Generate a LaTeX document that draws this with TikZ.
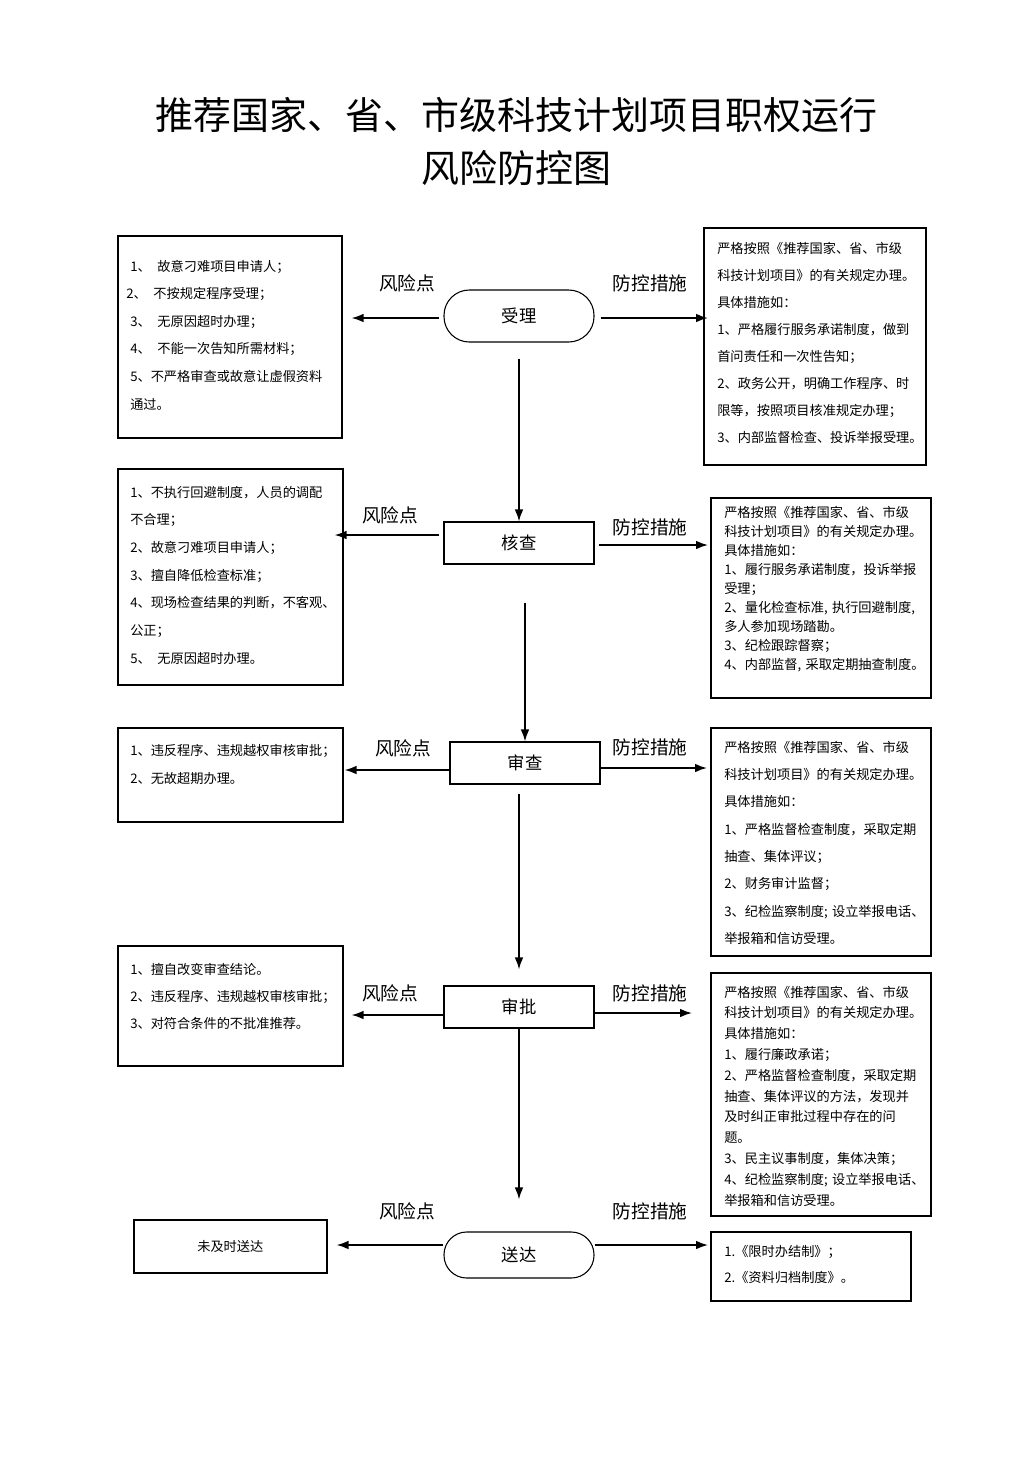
\documentclass[tikz,border=0pt]{standalone}
\usepackage{fontspec}
\setmainfont{Noto Sans CJK SC}
\usetikzlibrary{arrows.meta,calc}
\begin{document}
\begin{tikzpicture}[x=0.75pt,y=-0.75pt,
  box/.style={draw,line width=1.2pt,inner sep=0pt,anchor=north west},
  flow/.style={draw,line width=0.8pt,minimum width=112.5pt,minimum height=31.5pt,inner sep=0pt,font=\fontsize{13pt}{15pt}\selectfont},
  txt/.style={anchor=base west,inner sep=0pt,text width=200pt,align=left,font=\fontsize{9.9pt}{#1}\selectfont},
  lab/.style={font=\fontsize{14pt}{16pt}\selectfont,inner sep=0pt},
  title/.style={font=\fontsize{28.5pt}{39.75pt}\selectfont,align=center,inner sep=0pt,anchor=base},
  arr/.style={line width=1.2pt,-{Latex[length=9pt,width=6.5pt]}}]
\useasboundingbox (0,0) rectangle (1033,1460);
\fill[white] (0,0) rectangle (1033,1460);

% title
\node[title] (title) at (516,182) {推荐国家、省、市级科技计划项目职权运行\\风险防控图};

% flow nodes
\node[flow,minimum height=39pt,rounded corners=19pt] (sl) at (519,316) {受理};
\node[flow] (hc) at (519,543) {核查};
\node[flow] (sc) at (525,763) {审查};
\node[flow] (sp) at (519,1007) {审批};
\node[flow,minimum height=34.5pt,rounded corners=17pt] (sd) at (519,1255) {送达};

% boxes
\node[box,minimum width=168pt,minimum height=151.5pt] (L1) at (117,235) {};
\node[box,minimum width=166.5pt,minimum height=177.75pt] (R1) at (703,227) {};
\node[box,minimum width=168.75pt,minimum height=162pt] (L2) at (117,468) {};
\node[box,minimum width=165pt,minimum height=150pt] (R2) at (710,497) {};
\node[box,minimum width=168.75pt,minimum height=70.5pt] (L3) at (117,727) {};
\node[box,minimum width=165pt,minimum height=171pt] (R3) at (710,727) {};
\node[box,minimum width=168.75pt,minimum height=90pt] (L4) at (117,945) {};
\node[box,minimum width=165pt,minimum height=182.25pt] (R4) at (710,972) {};
\node[box,minimum width=144.75pt,minimum height=39.75pt,font=\fontsize{9.9pt}{12pt}\selectfont] (L5) at (133,1219) {未及时送达};
\node[box,minimum width=150pt,minimum height=51.75pt] (R5) at (710,1231) {};

% box texts
\node[txt=20.7pt] (L1t) at (130,271) {1、\hspace{5pt}故意刁难项目申请人；\\
\hspace*{-3pt}2、\hspace{5pt}不按规定程序受理；\\
3、\hspace{5pt}无原因超时办理；\\
4、\hspace{5pt}不能一次告知所需材料；\\
5、不严格审查或故意让虚假资料\\
通过。};
\node[txt=20.8pt] (L2t) at (130,497) {1、不执行回避制度，人员的调配\\
不合理；\\
2、故意刁难项目申请人；\\
3、擅自降低检查标准；\\
4、现场检查结果的判断，不客观、\\
公正；\\
5、\hspace{5pt}无原因超时办理。};
\node[txt=21pt] (L3t) at (130,755) {1、违反程序、违规越权审核审批；\\
2、无故超期办理。};
\node[txt=20.6pt] (L4t) at (130,974) {1、擅自改变审查结论。\\
2、违反程序、违规越权审核审批；\\
3、对符合条件的不批准推荐。};

\node[txt=20.3pt] (R1t) at (717,253) {严格按照《推荐国家、省、市级\\
科技计划项目》的有关规定办理。\\
具体措施如：\\
1、严格履行服务承诺制度，做到\\
首问责任和一次性告知；\\
2、政务公开，明确工作程序、时\\
限等，按照项目核准规定办理；\\
3、内部监督检查、投诉举报受理。};
\node[txt=14.3pt] (R2t) at (724,517) {严格按照《推荐国家、省、市级\\
科技计划项目》的有关规定办理。\\
具体措施如：\\
1、履行服务承诺制度，投诉举报\\
受理；\\
2、量化检查标准, 执行回避制度,\\
多人参加现场踏勘。\\
3、纪检跟踪督察；\\
4、内部监督, 采取定期抽查制度。};
\node[txt=20.5pt] (R3t) at (724,752) {严格按照《推荐国家、省、市级\\
科技计划项目》的有关规定办理。\\
具体措施如：\\
1、严格监督检查制度，采取定期\\
抽查、集体评议；\\
2、财务审计监督；\\
3、纪检监察制度; 设立举报电话、\\
举报箱和信访受理。};
\node[txt=15.6pt] (R4t) at (724,997) {严格按照《推荐国家、省、市级\\
科技计划项目》的有关规定办理。\\
具体措施如：\\
1、履行廉政承诺；\\
2、严格监督检查制度，采取定期\\
抽查、集体评议的方法，发现并\\
及时纠正审批过程中存在的问\\
题。\\
3、民主议事制度，集体决策；\\
4、纪检监察制度; 设立举报电话、\\
举报箱和信访受理。};
\node[txt=19.5pt] (R5t) at (724,1256) {1.《限时办结制》；\\
2.《资料归档制度》。};

% labels
\node[lab] (k1) at (407,283) {风险点};
\node[lab] (k2) at (390,515) {风险点};
\node[lab] (k3) at (403,748) {风险点};
\node[lab] (k4) at (390,993) {风险点};
\node[lab] (k5) at (407,1211) {风险点};
\node[lab] (f1) at (650,283) {防控措施};
\node[lab] (f2) at (650,527) {防控措施};
\node[lab] (f3) at (650,747) {防控措施};
\node[lab] (f4) at (650,993) {防控措施};
\node[lab] (f5) at (650,1211) {防控措施};

% vertical arrows
\draw[arr] ($(sl.south)+(0,16)$) -- (hc.north);
\draw[arr] ($(hc.south)+(6,38)$) -- (sc.north);
\draw[arr] ($(sc.south)+(-6,9)$) -- ($(sp.north)+(0,-16)$);
\draw[arr] (sp.south) -- ($(sd.north)+(0,-32)$);

% left arrows
\draw[arr] ($(sl.west)+(-4,2)$) -- ($(sl.west -| L1.east)+(9,2)$);
\draw[arr] ($(hc.west)+(-4,-8)$) -- ($(hc.west -| L2.east)+(-9,-8)$);
\draw[arr] ($(sc.west)+(0,7)$) -- ($(sc.west -| L3.east)+(1,7)$);
\draw[arr] ($(sp.west)+(0,8)$) -- ($(sp.west -| L4.east)+(8,8)$);
\draw[arr] ($(sd.west)+(0,-10)$) -- ($(sd.west -| L5.east)+(9,-10)$);

% right arrows
\draw[arr] ($(sl.east)+(6,2)$) -- ($(sl.east -| R1.west)+(5,2)$);
\draw[arr] ($(hc.east)+(4,2)$) -- ($(hc.east -| R2.west)+(-2,2)$);
\draw[arr] ($(sc.east)+(0,5)$) -- ($(sc.east -| R3.west)+(-3,5)$);
\draw[arr] ($(sp.east)+(0,6)$) -- ($(sp.east -| R4.west)+(-18,6)$);
\draw[arr] ($(sd.east)+(0,-10)$) -- ($(sd.east -| R5.west)+(-2,-10)$);
\end{tikzpicture}
\end{document}
